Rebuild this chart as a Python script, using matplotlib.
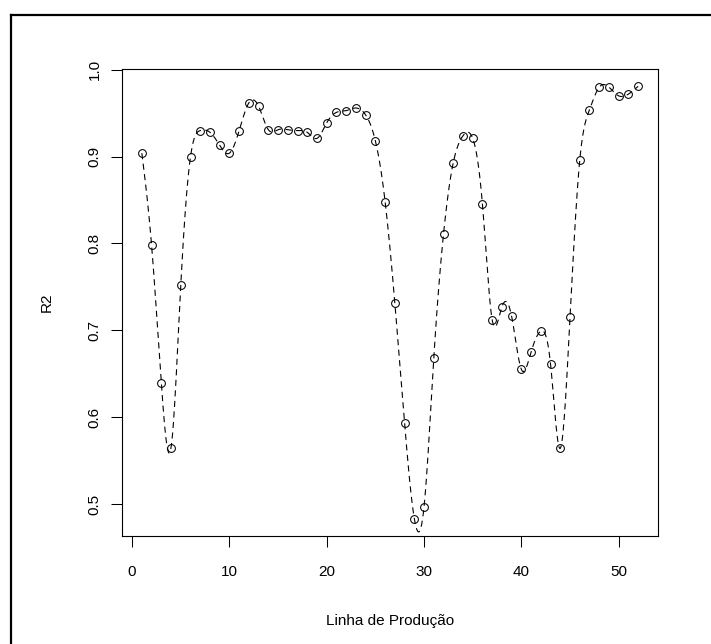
import numpy as np
import matplotlib
matplotlib.use("Agg")
import matplotlib.pyplot as plt
from matplotlib.lines import Line2D

# ---- data ----
linha = list(range(1, 53))
r2 = [0.904, 0.798, 0.639, 0.565, 0.752, 0.900, 0.930, 0.928, 0.913, 0.904,
      0.930, 0.962, 0.958, 0.931, 0.931, 0.931, 0.930, 0.928, 0.921, 0.939,
      0.951, 0.953, 0.956, 0.948, 0.918, 0.848, 0.731, 0.593, 0.483, 0.497,
      0.668, 0.811, 0.893, 0.924, 0.921, 0.845, 0.712, 0.727, 0.716, 0.655,
      0.675, 0.699, 0.661, 0.564, 0.715, 0.896, 0.954, 0.980, 0.980, 0.970,
      0.972, 0.981]
xticks = [0, 10, 20, 30, 40, 50]
yticks = [0.5, 0.6, 0.7, 0.8, 0.9, 1.0]
ytick_labels = ["0.5", "0.6", "0.7", "0.8", "0.9", "1.0"]
xlabel = "Linha de Produção"
ylabel = "R2"


def natural_spline(xs, ys, n_out=1200):
    """Smooth curve through the points (like R's lines(spline(x, y)))."""
    xs = np.asarray(xs, float)
    ys = np.asarray(ys, float)
    n = len(xs)
    h = np.diff(xs)
    A = np.zeros((n, n))
    rhs = np.zeros(n)
    A[0, 0] = 1.0
    A[-1, -1] = 1.0
    for i in range(1, n - 1):
        A[i, i - 1] = h[i - 1]
        A[i, i] = 2 * (h[i - 1] + h[i])
        A[i, i + 1] = h[i]
        rhs[i] = 6 * ((ys[i + 1] - ys[i]) / h[i] - (ys[i] - ys[i - 1]) / h[i - 1])
    M = np.linalg.solve(A, rhs)
    xx = np.linspace(xs[0], xs[-1], n_out)
    idx = np.clip(np.searchsorted(xs, xx) - 1, 0, n - 2)
    x0, x1 = xs[idx], xs[idx + 1]
    hh = x1 - x0
    a = (x1 - xx) / hh
    b = (xx - x0) / hh
    yy = (a * ys[idx] + b * ys[idx + 1]
          + ((a ** 3 - a) * M[idx] + (b ** 3 - b) * M[idx + 1]) * hh ** 2 / 6)
    return xx, yy


W, H = 711, 644
fig = plt.figure(figsize=(W / 100, H / 100), dpi=100)
fig.patch.set_facecolor("white")

L, R, T, B = 122, 658, 69, 536
ax = fig.add_axes([L / W, 1 - B / H, (R - L) / W, (B - T) / H])

xs_s, ys_s = natural_spline(linha, r2)
ax.plot(xs_s, ys_s, color="black", linewidth=0.8, linestyle=(0, (5.5, 4.0)))
ax.plot(linha, r2, linestyle="none", marker="o", markersize=5.6,
        markerfacecolor="none", markeredgecolor="black", markeredgewidth=0.75)

xr = max(linha) - min(linha)
yr = max(r2) - min(r2)
ax.set_xlim(min(linha) - 0.04 * xr, max(linha) + 0.04 * xr)
ax.set_ylim(min(r2) - 0.04 * yr, max(r2) + 0.04 * yr)

ax.set_xticks(xticks)
ax.set_xticklabels([str(t) for t in xticks])
ax.set_yticks(yticks)
ax.set_yticklabels(ytick_labels, rotation=90, va="center")

font = "Liberation Sans"
for lab in ax.get_xticklabels() + ax.get_yticklabels():
    lab.set_fontfamily(font)
    lab.set_fontsize(11)

ax.tick_params(axis="both", direction="out", length=7.6, width=0.75, color="black")
ax.tick_params(axis="x", pad=13)
ax.tick_params(axis="y", pad=7.2)
for sp in ax.spines.values():
    sp.set_linewidth(0.8)
    sp.set_color("black")

fig.text(390 / W, 1 - 621 / H, xlabel, ha="center", va="center",
         fontsize=11, family=font)
fig.text(47 / W, 1 - 302 / H, ylabel, ha="center", va="center",
         rotation=90, fontsize=11, family=font)

# outer frame (only left and top edges are inside the picture)
fig.add_artist(Line2D([11 / W, 11 / W], [1 - 15 / H, 0], transform=fig.transFigure,
                      color="black", linewidth=1.6, solid_capstyle="projecting"))
fig.add_artist(Line2D([11 / W, 1], [1 - 15 / H, 1 - 15 / H], transform=fig.transFigure,
                      color="black", linewidth=1.6, solid_capstyle="projecting"))

fig.savefig("out.png", dpi=100, facecolor="white")
